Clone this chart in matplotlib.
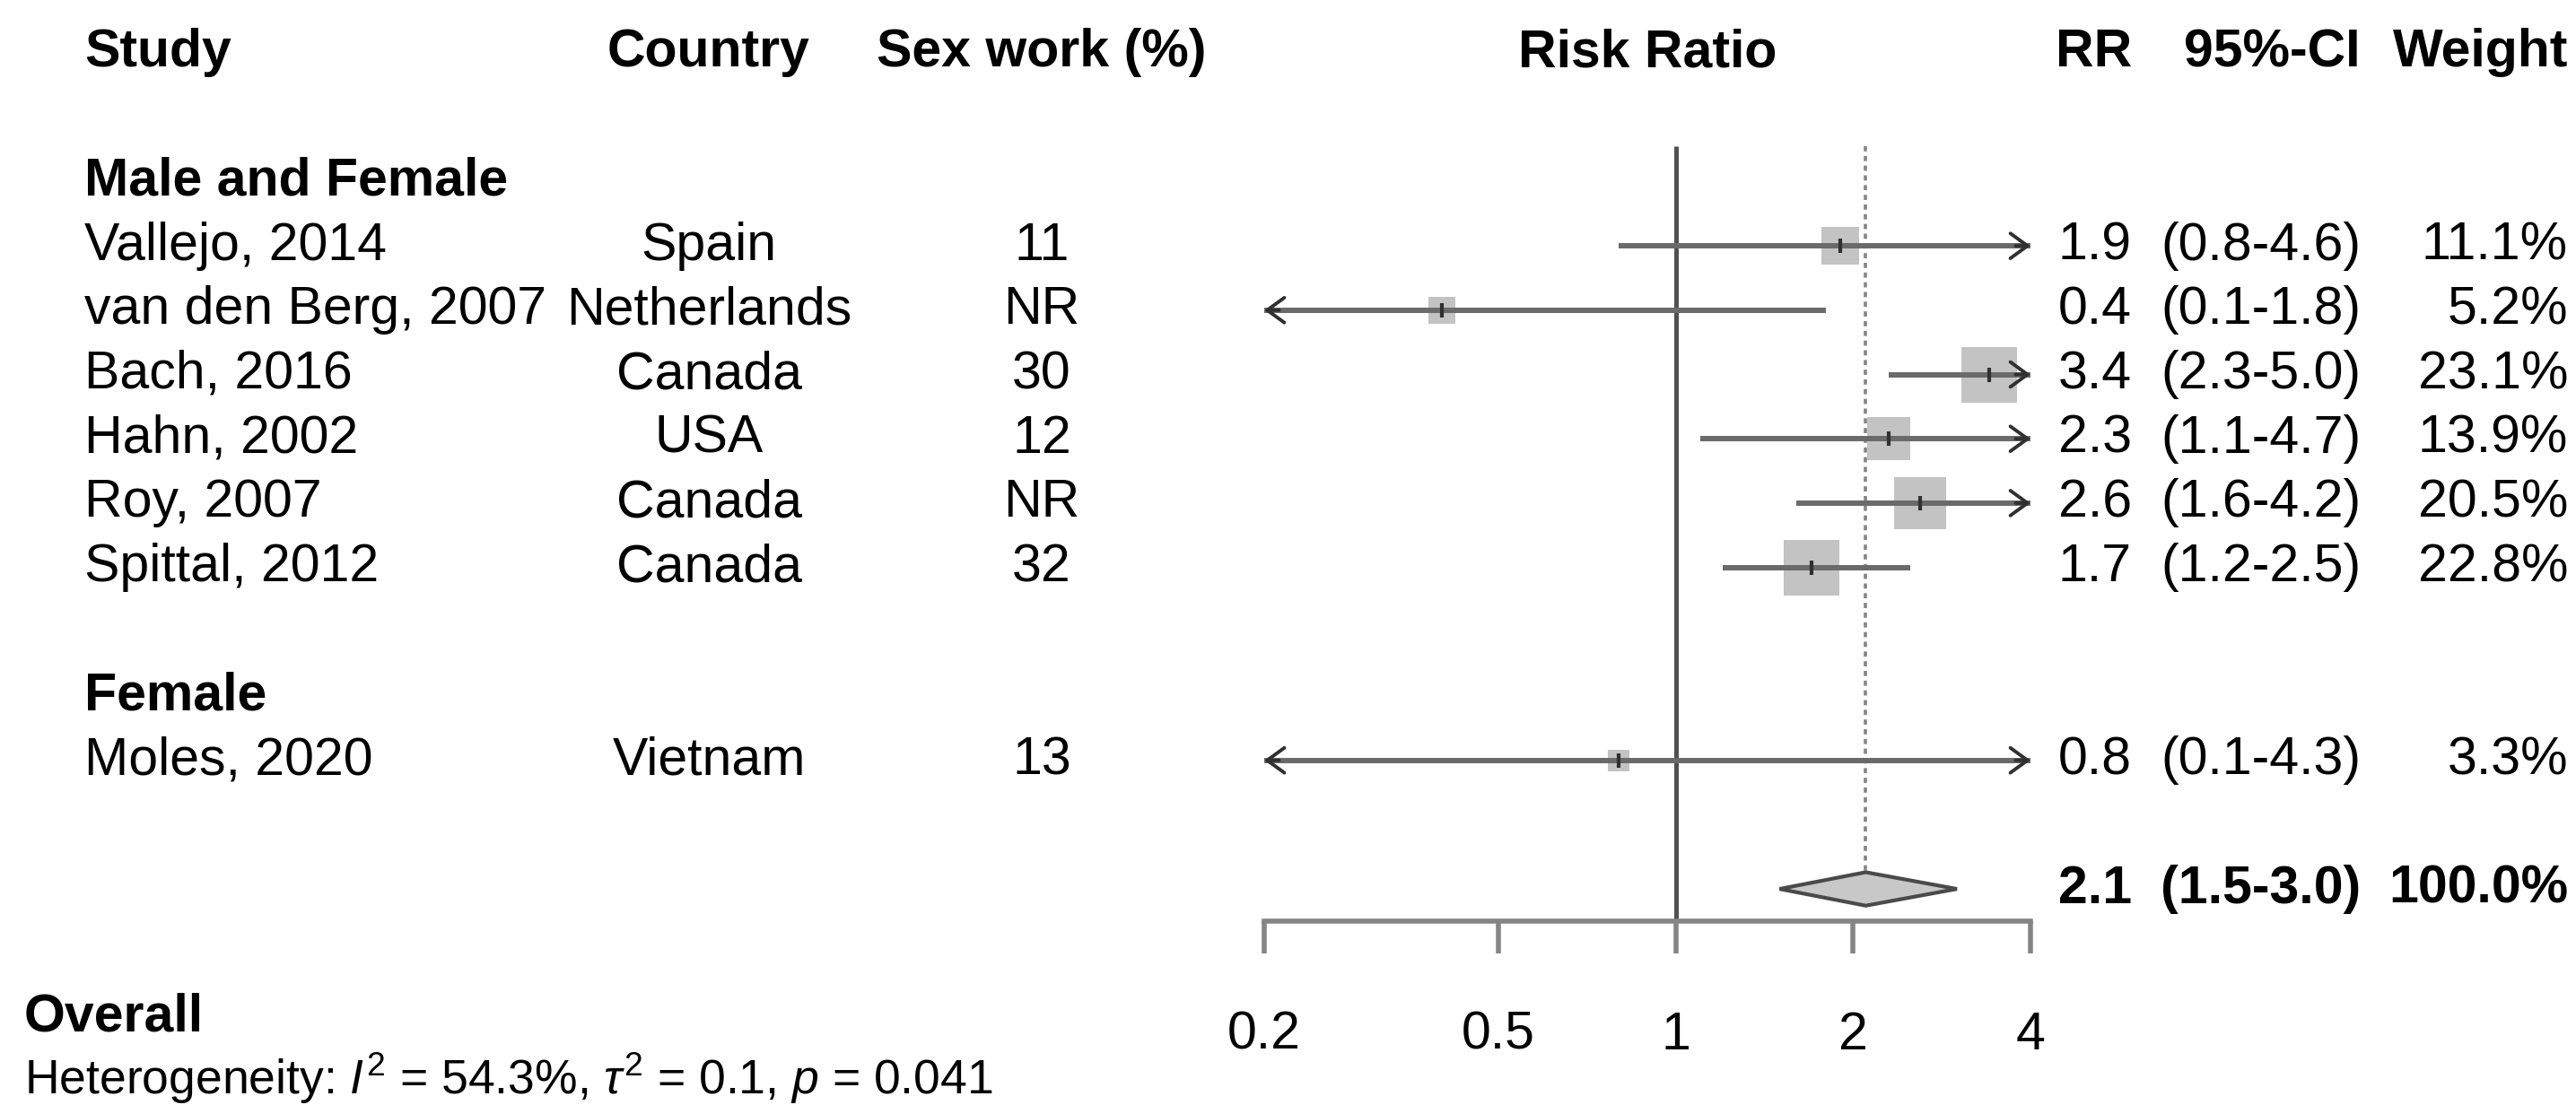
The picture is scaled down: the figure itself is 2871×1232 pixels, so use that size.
import numpy as np
import matplotlib.pyplot as plt
from matplotlib import transforms

plt.rcParams['font.family'] = ['Liberation Sans', 'DejaVu Sans']
plt.rcParams['mathtext.fontset'] = 'custom'
plt.rcParams['mathtext.rm'] = 'Liberation Sans'
plt.rcParams['mathtext.it'] = 'Liberation Sans:italic'

# study data
studies = ["Vallejo, 2014", "van den Berg, 2007", "Bach, 2016", "Hahn, 2002",
           "Roy, 2007", "Spittal, 2012", "Moles, 2020"]
countries = ["Spain", "Netherlands", "Canada", "USA", "Canada", "Canada", "Vietnam"]
sex_work = ["11", "NR", "30", "12", "NR", "32", "13"]
groups = ["Male and Female"] * 6 + ["Female"]
rr = [1.9, 0.4, 3.4, 2.3, 2.6, 1.7, 0.8]
ci_lo = [0.8, 0.1, 2.3, 1.1, 1.6, 1.2, 0.1]
ci_hi = [4.6, 1.8, 5.0, 4.7, 4.2, 2.5, 4.3]
weights = [11.1, 5.2, 23.1, 13.9, 20.5, 22.8, 3.3]

overall_rr = 2.1
overall_lo = 1.5
overall_hi = 3.0
het_text = r"Heterogeneity: $I^2$ = 54.3%, $\tau^2$ = 0.1, $p$ = 0.041"

ticks = [0.2, 0.5, 1, 2, 4]
xmin, xmax = 0.2, 4

W, H = 2871, 1232
fig = plt.figure(figsize=(W / 100, H / 100), dpi=100)
row_px = 71.7
y0_px = 59
ax = fig.add_axes([1409 / W, 0, 854 / W, 1])
ax.set_xscale('log')
ax.set_xlim(xmin, xmax)
ax.set_ylim((H - y0_px) / row_px, -y0_px / row_px)

fs = 42.5
fs_het = 38.5
dark = '#505050'
grey = '#858585'

tr = transforms.blended_transform_factory(fig.transFigure, ax.transData)

def fx(px):
    return px / W

# headers
hy = 0
ax.text(fx(94), hy, "Study", transform=tr, ha='left', va='center', fontsize=fs, fontweight='bold')
ax.text(fx(790), hy, "Country", transform=tr, ha='center', va='center', fontsize=fs, fontweight='bold')
ax.text(fx(1161), hy, "Sex work (%)", transform=tr, ha='center', va='center', fontsize=fs, fontweight='bold')
ax.text(fx(1836), hy, "Risk Ratio", transform=tr, ha='center', va='center', fontsize=fs, fontweight='bold')
ax.text(fx(2376), hy, "RR", transform=tr, ha='right', va='center', fontsize=fs, fontweight='bold')
ax.text(fx(2631), hy, "95%-CI", transform=tr, ha='right', va='center', fontsize=fs, fontweight='bold')
ax.text(fx(2862), hy, "Weight", transform=tr, ha='right', va='center', fontsize=fs, fontweight='bold')

# work out rows
rows = []
row = 2
current = None
group_rows = []
for i, g in enumerate(groups):
    if g != current:
        if current is not None:
            row += 1
        group_rows.append((g, row))
        row += 1
        current = g
    rows.append(row)
    row += 1
overall_row = row + 1

for g, r in group_rows:
    ax.text(fx(94), r, g, transform=tr, ha='left', va='center', fontsize=fs, fontweight='bold')

max_w = max(weights)
for i in range(len(studies)):
    y = rows[i]
    ax.text(fx(94), y, studies[i], transform=tr, ha='left', va='center', fontsize=fs)
    ax.text(fx(790), y, countries[i], transform=tr, ha='center', va='center', fontsize=fs)
    ax.text(fx(1161), y, sex_work[i], transform=tr, ha='center', va='center', fontsize=fs)
    ax.text(fx(2376), y, f"{rr[i]:.1f}", transform=tr, ha='right', va='center', fontsize=fs)
    ax.text(fx(2631), y, f"({ci_lo[i]:.1f}-{ci_hi[i]:.1f})", transform=tr, ha='right', va='center', fontsize=fs)
    ax.text(fx(2862), y, f"{weights[i]:.1f}%", transform=tr, ha='right', va='center', fontsize=fs)

    # box sized by weight
    side = 62 * np.sqrt(weights[i] / max_w) * 0.72
    ax.scatter([rr[i]], [y], marker='s', s=side ** 2, color='#c3c3c3', linewidths=0, zorder=2)

    lo = max(ci_lo[i], xmin)
    hi = min(ci_hi[i], xmax)
    ax.plot([lo, hi], [y, y], color='#6a6a6a', lw=4.3, solid_capstyle='butt', zorder=3)
    for end, inner in ((ci_lo[i] < xmin, xmin * 1.06), (ci_hi[i] > xmax, xmax / 1.06)):
        if end:
            tip = xmin if inner < 1 else xmax
            ax.annotate('', xy=(tip, y), xytext=(inner, y),
                        arrowprops=dict(arrowstyle='->,head_length=0.55,head_width=0.4',
                                        color='#303030', lw=2.8, mutation_scale=25,
                                        shrinkA=0, shrinkB=0), zorder=4)
    ax.scatter([rr[i]], [y], marker='|', s=(16 * 0.72) ** 2, color='#303030', linewidths=3, zorder=4)

# overall diamond
dh = 0.26
ax.fill([overall_lo, overall_rr, overall_hi, overall_rr],
        [overall_row, overall_row - dh, overall_row, overall_row + dh],
        facecolor='#c8c8c8', edgecolor='#4a4a4a', lw=3, zorder=3)
ax.text(fx(2376), overall_row, f"{overall_rr:.1f}", transform=tr, ha='right', va='center', fontsize=fs, fontweight='bold')
ax.text(fx(2631), overall_row, f"({overall_lo:.1f}-{overall_hi:.1f})", transform=tr, ha='right', va='center', fontsize=fs, fontweight='bold')
ax.text(fx(2862), overall_row, "100.0%", transform=tr, ha='right', va='center', fontsize=fs, fontweight='bold')

# reference lines
axis_y = overall_row + 0.5
ax.vlines(1, 1.45, axis_y, color=dark, lw=3.6, zorder=1)
ax.vlines(overall_rr, 1.45, overall_row - dh, color=grey, lw=2.6, linestyles=(0, (1.6, 1.4)), zorder=1)

# x axis
for s in ['top', 'left', 'right']:
    ax.spines[s].set_visible(False)
ax.spines['bottom'].set_position(('data', axis_y))
ax.spines['bottom'].set_color(grey)
ax.spines['bottom'].set_linewidth(4)
ax.set_yticks([])
ax.set_xticks(ticks)
ax.set_xticklabels([f"{t:g}" for t in ticks])
ax.minorticks_off()
ax.tick_params(axis='x', direction='out', length=26, width=4, color=grey,
               labelsize=fs, pad=46)
ax.patch.set_visible(False)

ax.text(fx(27), 15.0, "Overall", transform=tr, ha='left', va='center', fontsize=fs, fontweight='bold')
ax.text(fx(27), 15.95, het_text, transform=tr, ha='left', va='center', fontsize=fs_het)

fig.savefig('out.png', dpi=100)
